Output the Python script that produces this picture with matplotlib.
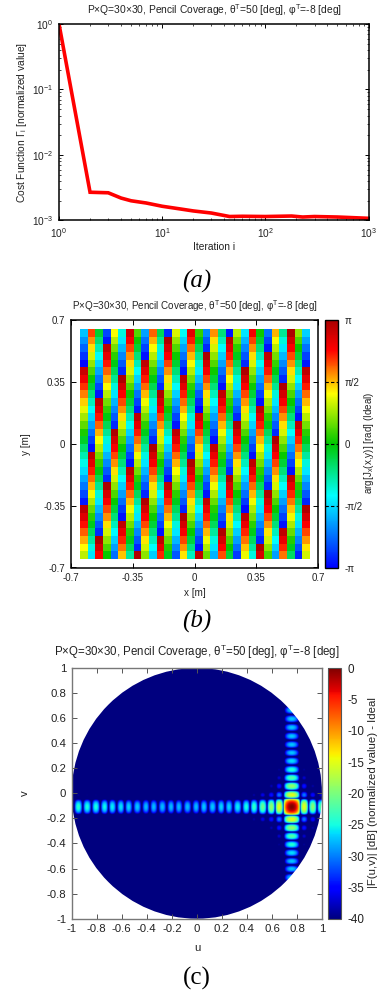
import numpy as np
import matplotlib
matplotlib.use("Agg")
import matplotlib.pyplot as plt
from matplotlib.colors import LinearSegmentedColormap
from matplotlib.patches import Circle
from matplotlib.ticker import LogLocator, NullFormatter

plt.rcParams['font.family'] = ['Liberation Sans', 'DejaVu Sans']
plt.rcParams['mathtext.fontset'] = 'custom'
plt.rcParams['mathtext.rm'] = 'Liberation Sans'
plt.rcParams['mathtext.it'] = 'Liberation Sans:italic'
plt.rcParams['mathtext.fallback'] = 'stixsans'

W, H = 380, 996

# (a) cost function
iterations = [1, 2, 3, 4, 5, 7, 10, 15, 20, 30, 45, 60, 100, 180, 230, 300, 500, 1000]
cost = [1.0, 2.7e-3, 2.65e-3, 2.2e-3, 2.0e-3, 1.85e-3, 1.65e-3, 1.5e-3, 1.4e-3,
        1.3e-3, 1.15e-3, 1.16e-3, 1.15e-3, 1.17e-3, 1.13e-3, 1.15e-3, 1.13e-3, 1.08e-3]

# (b) phase of the aperture, in units of pi: first row and first column of the map
phase_top_row = [-.55, .67, -.08, -.84, .40, -.36, .89, .13, -.63, .62, -.14, -.90, .35, -.41, .83,
                 .08, -.68, .56, -.20, -.95, .29, -.47, .78, .02, -.74, .51, -.25, .99, .23, -.52]
phase_left_col = [-.55, -.66, -.77, -.88, -.98, .91, .80, .69, .58, .47, .37, .26, .15, .04, -.07,
                  -.18, -.29, -.39, -.50, -.61, -.72, -.83, -.94, .95, .85, .74, .63, .52, .41, .30]
phase_ticks = [-1, -.5, 0, .5, 1]
phase_labels = ['-π', '-π/2', '0', 'π/2', 'π']
xy_ticks = [-.7, -.35, 0, .35, .7]
xy_labels = ['-0.7', '-0.35', '0', '0.35', '0.7']

# (c) lobe positions and peak levels [dB] along the two principal cuts
u_lobes = [-.95, -.88, -.81, -.74, -.68, -.61, -.55, -.48, -.41, -.35, -.28, -.21, -.15, -.08, -.01,
           .05, .12, .19, .25, .32, .39, .45, .52, .59, .65, .752, .85, .92, .985]
u_levels = [-24, -24.5, -24.5, -25, -25.5, -26, -26.5, -27, -27.5, -27.5, -27.5, -27.5, -27.5, -27.5,
            -27.5, -27, -27, -26.5, -26.5, -25.5, -24.5, -23.5, -21, -19, -15, 0, -15, -19.5, -22]
v_lobes = [-.67, -.60, -.54, -.473, -.407, -.34, -.274, -.205, -.106, -.013, .06, .125, .19, .26,
           .325, .39, .457, .527, .595, .665]
v_levels = [-27, -27, -27, -26, -24, -22, -19, -15, 0, -15, -19, -22, -24, -26, -27, -27, -27, -27,
            -27, -27]
main_null_u = 0.0667
main_null_v = 0.0667
uv_ticks = [-1, -.8, -.6, -.4, -.2, 0, .2, .4, .6, .8, 1]
uv_labels = ['-1', '-0.8', '-0.6', '-0.4', '-0.2', '0', '0.2', '0.4', '0.6', '0.8', '1']
db_ticks = [-40, -35, -30, -25, -20, -15, -10, -5, 0]

title_txt = 'P×Q=30×30, Pencil Coverage, θ$^{\\mathrm{T}}$=50 [deg], φ$^{\\mathrm{T}}$=-8 [deg]'
TXT = '#222222'


def box(l, t, r, b):
    return [l / W, 1 - b / H, (r - l) / W, (b - t) / H]


phase_cmap = LinearSegmentedColormap.from_list('phase', [
    (0.0, (0, 0, 1)), (.29, (0, 1, 1)), (.5, (0, .78, 0)), (.705, (1, 1, 0)),
    (.88, (1, 0, 0)), (1.0, (.67, 0, 0))])

fig = plt.figure(figsize=(W / 100, H / 100), dpi=100, facecolor='white')

# ---------------- (a)
ax = fig.add_axes(box(59, 24, 368.5, 220.5))
ax.loglog(iterations, cost, color='#ff0000', lw=2.6, solid_joinstyle='miter')
ax.set_xlim(1, 1000)
ax.set_ylim(1e-3, 1)
ax.xaxis.set_minor_locator(LogLocator(subs=range(2, 10)))
ax.yaxis.set_minor_locator(LogLocator(subs=range(2, 10)))
ax.xaxis.set_minor_formatter(NullFormatter())
ax.yaxis.set_minor_formatter(NullFormatter())
ax.tick_params(which='major', direction='in', top=True, right=True, length=3, width=.7,
               labelsize=7.3, labelcolor=TXT, pad=4)
ax.tick_params(which='minor', direction='in', top=True, right=True, length=1.5, width=.5)
for s in ax.spines.values():
    s.set_linewidth(1.1)
fig.text(214.5 / W, 1 - 246.5 / H, 'Iteration i', ha='center', va='center', fontsize=7.4, color=TXT)
fig.text(22 / W, 1 - 122 / H, 'Cost Function Γ$_{\\mathrm{i}}$ [normalized value]', rotation=90,
         ha='center', va='center', fontsize=7.4, color=TXT)
fig.text(214 / W, 1 - 10 / H, title_txt, ha='center', va='center', fontsize=7.4, color=TXT)
fig.text(197 / W, 1 - 281 / H, '(a)', ha='center', va='center', fontsize=18,
         family='Liberation Serif', style='italic', color='black')

# ---------------- (b)
ax = fig.add_axes(box(71, 320, 318, 567.5))
top = np.array(phase_top_row)
left = np.array(phase_left_col)
grid = top[None, :] + left[:, None] - left[0]
grid = (grid + 1) % 2 - 1
im = ax.imshow(grid, cmap=phase_cmap, vmin=-1, vmax=1, extent=[-.65, .65, -.65, .65],
               interpolation='nearest', aspect='auto')
ax.set_xlim(-.7, .7)
ax.set_ylim(-.7, .7)
ax.set_xticks(xy_ticks, xy_labels)
ax.set_yticks(xy_ticks, xy_labels)
ax.tick_params(direction='in', top=True, right=True, length=3.5, width=.7, labelsize=7.05,
               labelcolor=TXT, pad=4)
for s in ax.spines.values():
    s.set_linewidth(1.1)
fig.text(194.5 / W, 1 - 593 / H, 'x [m]', ha='center', va='center', fontsize=7.1, color=TXT)
fig.text(26 / W, 1 - 444 / H, 'y [m]', rotation=90, ha='center', va='center', fontsize=7.1, color=TXT)
fig.text(195 / W, 1 - 306.5 / H, title_txt, ha='center', va='center', fontsize=7.1, color=TXT)
cax = fig.add_axes(box(324.5, 320, 338, 568))
cb = fig.colorbar(im, cax=cax)
cb.set_ticks(phase_ticks, labels=phase_labels)
cax.tick_params(length=0, labelsize=7.05, labelcolor=TXT, pad=5)
for t in phase_ticks[1:-1]:
    cax.axhline(t, color='black', lw=.8, ls=(0, (3, 2)))
cb.outline.set_linewidth(1.0)
fig.text(369 / W, 1 - 443 / H, 'arg[J$_{\\mathrm{x}}$(x,y)] [rad] (Ideal)', rotation=90, ha='center',
         va='center', fontsize=7.1, color=TXT)
fig.text(197 / W, 1 - 621 / H, '(b)', ha='center', va='center', fontsize=18,
         family='Liberation Serif', style='italic', color='black')


# ---------------- (c)
def cut(x, lobes, levels, main_null):
    lobes = np.asarray(lobes)
    levels = np.asarray(levels, float)
    m = int(np.argmax(levels))
    low = np.r_[lobes[0] - (lobes[1] - lobes[0]) / 2, (lobes[1:] + lobes[:-1]) / 2]
    high = np.r_[(lobes[1:] + lobes[:-1]) / 2, lobes[-1] + (lobes[-1] - lobes[-2]) / 2]
    low[m], high[m] = lobes[m] - main_null, lobes[m] + main_null
    high[m - 1], low[m + 1] = low[m], high[m]
    k = np.clip(np.searchsorted(high, x), 0, len(lobes) - 1)
    d = np.where(x < lobes[k], (lobes[k] - x) / (lobes[k] - low[k]), (x - lobes[k]) / (high[k] - lobes[k]))
    amp = np.cos(np.clip(d, 0, 1) * np.pi / 2)
    return levels[k] + 20 * np.log10(np.maximum(amp, 1e-4))


ax = fig.add_axes(box(71.7, 668, 322, 918.7))
axis_u = np.linspace(-1, 1, 1001)
axis_v = np.linspace(-1, 1, 1001)
field = cut(axis_v, v_lobes, v_levels, main_null_v)[:, None] + cut(axis_u, u_lobes, u_levels, main_null_u)[None, :]
im = ax.imshow(np.clip(field, -40, 0), cmap='jet', vmin=-40, vmax=0, origin='lower',
               extent=[-1, 1, -1, 1], interpolation='bilinear', aspect='auto')
im.set_clip_path(Circle((0, 0), 1, transform=ax.transData))
ax.set_xlim(-1, 1)
ax.set_ylim(-1, 1)
ax.set_xticks(uv_ticks, uv_labels)
ax.set_yticks(uv_ticks, uv_labels)
ax.tick_params(direction='in', top=True, right=True, length=3.5, width=.7, color='#555555',
               labelsize=8.2, labelcolor=TXT, pad=4)
for s in ax.spines.values():
    s.set_linewidth(1.0)
    s.set_color('#777777')
fig.text(197 / W, 1 - 948 / H, 'u', ha='center', va='center', fontsize=8.2, color=TXT)
fig.text(25 / W, 1 - 793 / H, 'v', rotation=90, ha='center', va='center', fontsize=8.2, color=TXT)
fig.text(196.5 / W, 1 - 652 / H, title_txt, ha='center', va='center', fontsize=8.3, color=TXT)
cax = fig.add_axes(box(328, 668, 341, 918.7))
cb = fig.colorbar(im, cax=cax)
cb.set_ticks(db_ticks)
cb.set_ticklabels([str(t) for t in db_ticks])
cax.tick_params(length=0, labelsize=8.4, labelcolor=TXT, pad=5)
cb.outline.set_linewidth(.8)
cb.outline.set_edgecolor('#555555')
fig.text(373 / W, 1 - 792.5 / H, '|F(u,v)| [dB] (normalized value) - Ideal', rotation=90, ha='center',
         va='center', fontsize=8.2, color=TXT)
fig.text(197 / W, 1 - 978 / H, '(c)', ha='center', va='center', fontsize=18,
         family='Liberation Serif', color='black')

fig.savefig('out.png', dpi=100)
